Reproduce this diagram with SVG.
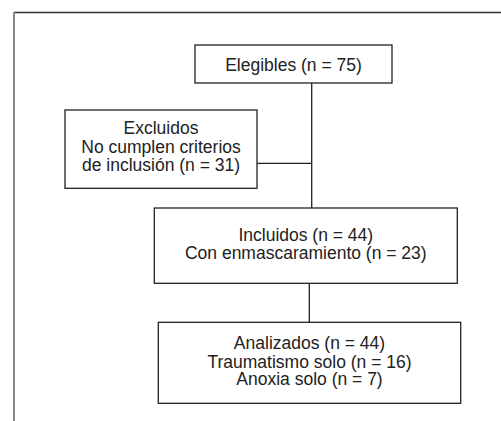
<svg xmlns="http://www.w3.org/2000/svg" width="501" height="421" viewBox="0 0 501 421">
<style>
.box{fill:#fff;stroke:#222;stroke-width:1.3}
.t{font-family:"Liberation Sans",Arial,sans-serif;font-size:17.5px;fill:#222;text-anchor:middle}
.c{stroke:#222;stroke-width:1.3;fill:none}
</style>
<rect width="501" height="421" fill="#fff"/>
<g id="frame">
<line x1="14" y1="12.5" x2="501" y2="12.5" stroke="#333" stroke-width="1.3"/>
<line x1="14" y1="12" x2="14" y2="421" stroke="#888" stroke-width="2"/>
</g>
<g id="connectors">
<path class="c" d="M311.7 83 V208"/>
<path class="c" d="M257 163.3 H311.7"/>
<path class="c" d="M309.3 283.3 V322.3"/>
</g>
<g id="elegibles">
<rect class="box" x="195" y="45" width="197" height="38"/>
<text class="t" x="293.5" y="70.5">Elegibles (n = 75)</text>
</g>
<g id="excluidos">
<rect class="box" x="65" y="110" width="192" height="78.3"/>
<text class="t" x="161" y="134">Excluidos</text>
<text class="t" x="161" y="152.5">No cumplen criterios</text>
<text class="t" x="161" y="171">de inclusión (n = 31)</text>
</g>
<g id="incluidos">
<rect class="box" x="154.3" y="208" width="303" height="75.3"/>
<text class="t" x="305.8" y="241">Incluidos (n = 44)</text>
<text class="t" x="305.8" y="259.3">Con enmascaramiento (n = 23)</text>
</g>
<g id="analizados">
<rect class="box" x="158.3" y="322.3" width="302.4" height="81"/>
<text class="t" x="309.5" y="349.3">Analizados (n = 44)</text>
<text class="t" x="309.5" y="367.7">Traumatismo solo (n = 16)</text>
<text class="t" x="309.5" y="385">Anoxia solo (n = 7)</text>
</g>
</svg>
